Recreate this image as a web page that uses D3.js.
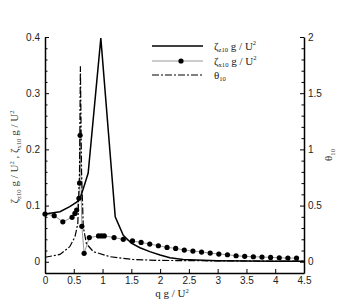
<!DOCTYPE html>
<html><head><meta charset="utf-8">
<script src="https://cdn.jsdelivr.net/npm/d3@7"></script>
<style>body{margin:0;background:#fff}svg{display:block}
.serif{font-family:"Liberation Serif","Times New Roman","DejaVu Serif",serif}
.sans{font-family:"Liberation Sans",Arial,sans-serif}</style>
</head><body><svg id="c" width="346" height="308"></svg>
<script>
// ζz10 g/U² (solid)
const zetaZ_x = [0, 0.26, 0.43, 0.55, 0.61, 0.68, 0.75, 0.97, 1.22, 1.36, 1.5, 1.65, 1.82, 2.0, 2.17, 2.4, 2.63, 3.0, 3.5, 4.0, 4.5];
const zetaZ_y = [0.085, 0.089, 0.098, 0.106, 0.113, 0.135, 0.158, 0.398, 0.08, 0.047, 0.033, 0.025, 0.018, 0.012, 0.007, 0.004, 0.003, 0.002, 0.0015, 0.001, 0.001];
// ζx10 g/U² (gray line with dots)
const zetaX_x = [0, 0.16, 0.31, 0.47, 0.52, 0.55, 0.59, 0.60, 0.61, 0.64, 0.68, 0.77, 0.93, 0.98, 1.03, 1.2, 1.36, 1.52, 1.67, 1.82, 1.97, 2.12, 2.27, 2.42, 2.57, 2.72, 2.87, 3.02, 3.17, 3.32, 3.47, 3.62, 3.77, 3.92, 4.07, 4.22, 4.37];
const zetaX_y = [0.085, 0.082, 0.071, 0.079, 0.086, 0.092, 0.113, 0.14, 0.225, 0.063, 0.015, 0.043, 0.046, 0.046, 0.046, 0.043, 0.040, 0.037, 0.0345, 0.0315, 0.0285, 0.0256, 0.0238, 0.0208, 0.019, 0.0173, 0.0155, 0.0137, 0.0125, 0.0107, 0.0096, 0.0089, 0.0084, 0.0078, 0.0071, 0.0066, 0.0066];
// θ10 (dash-dot, right axis)
const theta_x = [0, 0.26, 0.43, 0.52, 0.57, 0.6, 0.615, 0.635, 0.665, 0.72, 0.84, 1.13, 1.53, 2.0, 3.0, 4.5];
const theta_y = [0.04, 0.065, 0.134, 0.22, 0.34, 0.8, 1.74, 0.8, 0.31, 0.16, 0.09, 0.045, 0.02, 0.012, 0.008, 0.005];
const xTicks = [0, 0.5, 1, 1.5, 2, 2.5, 3, 3.5, 4, 4.5];
const yLTicks = [0, 0.1, 0.2, 0.3, 0.4];
const yRTicks = [0, 0.5, 1, 1.5, 2];

const svg = d3.select("#c");
const x = d3.scaleLinear().domain([0, 4.5]).range([45, 304]);
const yL = d3.scaleLinear().domain([-0.02, 0.4]).range([273, 37]);
const yR = d3.scaleLinear().domain([-0.1, 2]).range([273, 37]);
const fmt = d => String(+(+d).toFixed(1));

function styleAxis(g) {
  g.attr("font-family", null).attr("font-size", null);
  g.selectAll("path.domain").attr("stroke", "#000").attr("stroke-width", 1.5);
  g.selectAll(".tick line").attr("stroke", "#000").attr("stroke-width", 1);
  g.selectAll("text").attr("class", "sans").attr("font-size", 10).attr("fill", "#222");
}
// minor ticks
const minorL = d3.range(-0.02, 0.401, 0.02).map(v => +v.toFixed(2)).filter(v => !yLTicks.includes(v));
const minorR = d3.range(-0.1, 2.001, 0.1).map(v => +v.toFixed(1)).filter(v => !yRTicks.includes(v));
svg.append("g").attr("transform", "translate(45,0)")
  .call(d3.axisLeft(yL).tickValues(minorL).tickSize(-2.5).tickSizeOuter(0).tickFormat(""))
  .call(g => { g.select("path.domain").remove(); g.selectAll("line").attr("stroke", "#000"); });
svg.append("g").attr("transform", "translate(304,0)")
  .call(d3.axisRight(yR).tickValues(minorR).tickSize(-2.5).tickSizeOuter(0).tickFormat(""))
  .call(g => { g.select("path.domain").remove(); g.selectAll("line").attr("stroke", "#000"); });

svg.append("g").attr("transform", "translate(0,273)")
  .call(d3.axisBottom(x).tickValues(xTicks).tickSize(-4).tickSizeOuter(0).tickPadding(4).tickFormat(fmt))
  .call(styleAxis);
svg.append("g").attr("transform", "translate(45,0)")
  .call(d3.axisLeft(yL).tickValues(yLTicks).tickSize(-4).tickSizeOuter(0).tickPadding(5).tickFormat(fmt))
  .call(styleAxis);
svg.append("g").attr("transform", "translate(304,0)")
  .call(d3.axisRight(yR).tickValues(yRTicks).tickSize(-4).tickSizeOuter(0).tickPadding(4).tickFormat(fmt))
  .call(styleAxis);

// series
const zz = zetaZ_x.map((v, i) => [v, zetaZ_y[i]]);
const zx = zetaX_x.map((v, i) => [v, zetaX_y[i]]);
const th = theta_x.map((v, i) => [v, theta_y[i]]);
const lineL = d3.line().x(d => x(d[0])).y(d => yL(d[1]));
const lineR = d3.line().x(d => x(d[0])).y(d => yR(d[1]));
svg.append("path").attr("d", lineL(zx)).attr("fill", "none").attr("stroke", "#999").attr("stroke-width", 1);
svg.append("path").attr("d", lineR(th)).attr("fill", "none").attr("stroke", "#000").attr("stroke-width", 1.2).attr("stroke-dasharray", "7,2,2,2");
svg.append("path").attr("d", lineL(zz)).attr("fill", "none").attr("stroke", "#000").attr("stroke-width", 1.5);
svg.append("g").selectAll("circle").data(zx).join("circle")
  .attr("cx", d => x(d[0])).attr("cy", d => yL(d[1])).attr("r", 2.6).attr("fill", "#000");

// rich label helper
function rich(sel, parts, size) {
  parts.forEach(p => {
    const t = sel.append("tspan").text(p.t);
    if (p.sub) t.attr("font-size", size * 0.6).attr("dy", size * 0.25);
    else if (p.sup) t.attr("font-size", size * 0.6).attr("dy", -size * 0.4);
    if (p.back) t.attr("dy", p.back);
  });
}
const FS = 11;
function zetaParts(s) {
  return [{t: "ζ"}, {t: s, sub: true}, {t: " g / U", back: -FS * 0.25}, {t: "2", sup: true}];
}

// legend
const leg = [
  {label: "z10", dash: null, color: "#000", w: 1.5, dot: false, y: 46},
  {label: "x10", dash: null, color: "#999", w: 1, dot: true, y: 61},
  {label: "θ", dash: "7,2,2,2", color: "#000", w: 1.2, dot: false, y: 75}
];
leg.forEach(l => {
  svg.append("line").attr("x1", 152).attr("x2", 203).attr("y1", l.y).attr("y2", l.y)
    .attr("stroke", l.color).attr("stroke-width", l.w).attr("stroke-dasharray", l.dash);
  if (l.dot) svg.append("circle").attr("cx", 181).attr("cy", l.y).attr("r", 2.6).attr("fill", "#000");
  const t = svg.append("text").attr("class", "serif").attr("x", 214).attr("y", l.y + 3.5).attr("font-size", FS).attr("fill", "#222");
  if (l.label === "θ") rich(t, [{t: "θ"}, {t: "10", sub: true}], FS);
  else rich(t, zetaParts(l.label), FS);
});

// axis titles
const xt = svg.append("text").attr("class", "serif").attr("x", 172).attr("y", 297).attr("text-anchor", "middle")
  .attr("font-size", FS).attr("fill", "#222");
rich(xt, [{t: "q g / U"}, {t: "2", sup: true}], FS);

const ylt = svg.append("text").attr("class", "serif").attr("transform", "translate(18,157) rotate(-90)").attr("text-anchor", "middle")
  .attr("font-size", FS).attr("fill", "#333");
rich(ylt, [...zetaParts("z10"), {t: " ,  ζ", back: FS * 0.4}, {t: "x10", sub: true}, {t: " g / U", back: -FS * 0.25}, {t: "2", sup: true}], FS);

const yrt = svg.append("text").attr("class", "serif").attr("transform", "translate(332,155) rotate(-90)").attr("text-anchor", "middle")
  .attr("font-size", FS).attr("fill", "#333");
rich(yrt, [{t: "θ"}, {t: "10", sub: true}], FS);
</script></body></html>
